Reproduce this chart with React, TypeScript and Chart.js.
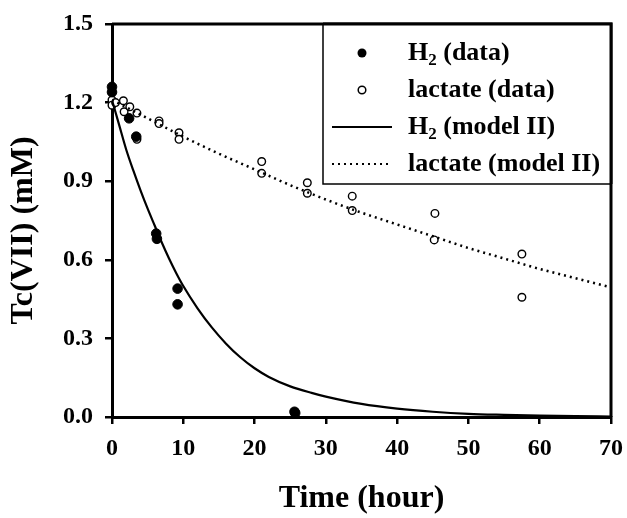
import React, { useEffect, useRef } from "react";
import { Chart, registerables } from "chart.js";

Chart.register(...registerables);

// ---- data ----
const h2Times = [0, 0, 2.4, 3.4, 6.2, 6.3, 9.2, 9.2, 25.6, 25.7];
const h2Values = [1.26, 1.24, 1.14, 1.07, 0.70, 0.68, 0.49, 0.43, 0.02, 0.015];

const lacTimes = [0, 0, 0, 0.5, 1.6, 1.7, 2.5, 3.5, 3.5, 6.6, 6.6, 9.4, 9.4, 21, 21, 27.4, 27.4, 33.7, 33.7, 45.3, 45.2, 57.5, 57.5];
const lacValues = [1.24, 1.21, 1.19, 1.2, 1.207, 1.165, 1.184, 1.16, 1.06, 1.13, 1.12, 1.085, 1.06, 0.975, 0.93, 0.894, 0.854, 0.843, 0.788, 0.777, 0.676, 0.622, 0.457];

const h2ModelTimes = [0, 1, 2, 3, 4, 5, 6, 7, 8, 9, 10, 12, 14, 16, 18, 20, 22, 25, 28, 30, 35, 40, 45, 50, 55, 60, 65, 70];
const h2ModelValues = [1.21, 1.115, 1.02, 0.94, 0.865, 0.795, 0.73, 0.665, 0.605, 0.55, 0.50, 0.415, 0.342, 0.28, 0.228, 0.186, 0.153, 0.117, 0.092, 0.078, 0.05, 0.032, 0.02, 0.012, 0.008, 0.005, 0.003, 0.002];

const lacModelTimes = [0, 5, 10, 15, 20, 25, 30, 35, 40, 45, 50, 55, 60, 65, 70];
const lacModelValues = [1.21, 1.14, 1.07, 1.005, 0.945, 0.885, 0.83, 0.78, 0.735, 0.69, 0.645, 0.605, 0.565, 0.53, 0.495];

const xTicks = [0, 10, 20, 30, 40, 50, 60, 70];
const yTicks = [0.0, 0.3, 0.6, 0.9, 1.2, 1.5];

const xTitle = "Time (hour)";
const yTitle = "Tc(VII) (mM)";
const legendLabels = [
  { main: "H", sub: "2", rest: " (data)" },
  { main: "lactate (data)", sub: "", rest: "" },
  { main: "H", sub: "2", rest: " (model II)" },
  { main: "lactate (model II)", sub: "", rest: "" },
];

const FONT = "'Liberation Serif', 'Times New Roman', serif";

const pairs = (xs: number[], ys: number[]) => xs.map((x, i) => ({ x, y: ys[i] }));

const framePlugin = {
  id: "frame",
  beforeDatasetsDraw(chart: any) {
    const { ctx, chartArea } = chart;
    ctx.save();
    ctx.strokeStyle = "#000";
    ctx.lineWidth = 3;
    ctx.beginPath();
    ctx.moveTo(chartArea.left, chartArea.top);
    ctx.lineTo(chartArea.right, chartArea.top);
    ctx.lineTo(chartArea.right, chartArea.bottom);
    ctx.stroke();
    // y-axis title (drawn slightly below the chart-area centre, as in the reference)
    ctx.fillStyle = "#000";
    ctx.font = `bold 32px ${FONT}`;
    ctx.textAlign = "center";
    ctx.textBaseline = "middle";
    ctx.translate(24, (chartArea.top + chartArea.bottom) / 2 + 10);
    ctx.rotate(-Math.PI / 2);
    ctx.fillText(yTitle, 0, 0);
    ctx.restore();
  },
};

const legendPlugin = {
  id: "customLegend",
  afterDatasetsDraw(chart: any) {
    const { ctx, chartArea } = chart;
    const x1 = chartArea.right;
    const y0 = chartArea.top;
    const x0 = x1 - 288;
    const y1 = y0 + 160;
    ctx.save();
    ctx.fillStyle = "#fff";
    ctx.fillRect(x0, y0, x1 - x0, y1 - y0);
    ctx.strokeStyle = "#000";
    ctx.lineWidth = 1.5;
    ctx.strokeRect(x0, y0, x1 - x0, y1 - y0);
    ctx.lineWidth = 3;
    ctx.beginPath();
    ctx.moveTo(x0, y0);
    ctx.lineTo(x1, y0);
    ctx.lineTo(x1, y1);
    ctx.stroke();

    const rows = [y0 + 29, y0 + 66, y0 + 103, y0 + 140];
    const symX = x0 + 39;
    const lineX0 = x0 + 9;
    const lineX1 = x0 + 69;
    const textX = x0 + 85;

    ctx.fillStyle = "#000";
    ctx.beginPath();
    ctx.arc(symX, rows[0], 4.5, 0, Math.PI * 2);
    ctx.fill();
    ctx.lineWidth = 1.5;
    ctx.beginPath();
    ctx.arc(symX, rows[1], 3.8, 0, Math.PI * 2);
    ctx.stroke();
    ctx.lineWidth = 2;
    ctx.beginPath();
    ctx.moveTo(lineX0, rows[2]);
    ctx.lineTo(lineX1, rows[2]);
    ctx.stroke();
    ctx.setLineDash([2, 4]);
    ctx.lineWidth = 2;
    ctx.beginPath();
    ctx.moveTo(lineX0, rows[3]);
    ctx.lineTo(lineX1, rows[3]);
    ctx.stroke();
    ctx.setLineDash([]);

    ctx.textBaseline = "middle";
    ctx.textAlign = "left";
    legendLabels.forEach((lab, i) => {
      const y = rows[i];
      ctx.font = `bold 26px ${FONT}`;
      ctx.fillText(lab.main, textX, y);
      let x = textX + ctx.measureText(lab.main).width;
      if (lab.sub) {
        ctx.font = `bold 17px ${FONT}`;
        ctx.fillText(lab.sub, x, y + 8);
        x += ctx.measureText(lab.sub).width;
      }
      if (lab.rest) {
        ctx.font = `bold 26px ${FONT}`;
        ctx.fillText(lab.rest, x, y);
      }
    });
    ctx.restore();
  },
};

export default function App() {
  const ref = useRef<HTMLCanvasElement>(null);

  useEffect(() => {
    if (!ref.current) return;
    const chart = new Chart(ref.current, {
      type: "scatter",
      data: {
        datasets: [
          {
            label: "H2 (model II)",
            type: "line",
            data: pairs(h2ModelTimes, h2ModelValues),
            borderColor: "#000",
            borderWidth: 2.2,
            pointRadius: 0,
            cubicInterpolationMode: "monotone",
            fill: false,
          } as any,
          {
            label: "lactate (model II)",
            type: "line",
            data: pairs(lacModelTimes, lacModelValues),
            borderColor: "#000",
            borderWidth: 2.5,
            borderDash: [2, 4],
            pointRadius: 0,
            cubicInterpolationMode: "monotone",
            fill: false,
          } as any,
          {
            label: "H2 (data)",
            data: pairs(h2Times, h2Values),
            pointRadius: 4.8,
            pointBackgroundColor: "#000",
            pointBorderColor: "#000",
            pointBorderWidth: 1,
            clip: false,
          } as any,
          {
            label: "lactate (data)",
            data: pairs(lacTimes, lacValues),
            pointRadius: 3.8,
            pointBackgroundColor: "#fff",
            pointBorderColor: "#000",
            pointBorderWidth: 1.4,
            clip: false,
          } as any,
        ],
      },
      options: {
        animation: false,
        responsive: false,
        devicePixelRatio: 1,
        layout: { padding: { left: 0, top: 24, right: 16, bottom: 0 } },
        plugins: {
          legend: { display: false },
          tooltip: { enabled: false },
        },
        scales: {
          x: {
            type: "linear",
            min: 0,
            max: 70,
            afterFit: (s: any) => {
              s.height = 101;
              s.paddingRight = 0;
              s.paddingLeft = 0;
            },
            afterBuildTicks: (s: any) => {
              s.ticks = xTicks.map((v) => ({ value: v }));
            },
            ticks: {
              color: "#000",
              font: { family: FONT, size: 24, weight: "bold" },
              padding: 10,
              maxRotation: 0,
              callback: (v: any) => String(v),
            },
            grid: {
              drawOnChartArea: false,
              drawTicks: true,
              tickLength: 7,
              color: "#000",
              lineWidth: 2.5,
            },
            border: { display: true, color: "#000", width: 3 },
            title: {
              display: true,
              text: xTitle,
              color: "#000",
              font: { family: FONT, size: 32, weight: "bold", lineHeight: 1.2 },
              padding: { top: 0, bottom: 0 },
            },
          },
          y: {
            type: "linear",
            min: 0,
            max: 1.5,
            afterFit: (s: any) => {
              s.width = 112;
              s.paddingTop = 0;
              s.paddingBottom = 0;
            },
            afterBuildTicks: (s: any) => {
              s.ticks = yTicks.map((v) => ({ value: v }));
            },
            ticks: {
              color: "#000",
              font: { family: FONT, size: 24, weight: "bold" },
              padding: 12,
              callback: (v: any) => Number(v).toFixed(1),
            },
            grid: {
              drawOnChartArea: false,
              drawTicks: true,
              tickLength: 7,
              color: "#000",
              lineWidth: 2.5,
            },
            border: { display: true, color: "#000", width: 3 },
            title: { display: false },
          },
        },
      } as any,
      plugins: [framePlugin, legendPlugin],
    });
    return () => chart.destroy();
  }, []);

  return (
    <div style={{ position: "absolute", left: 0, top: 0, width: 627, height: 518, background: "#fff" }}>
      <canvas ref={ref} width={627} height={518} style={{ display: "block", width: 627, height: 518 }} />
    </div>
  );
}
